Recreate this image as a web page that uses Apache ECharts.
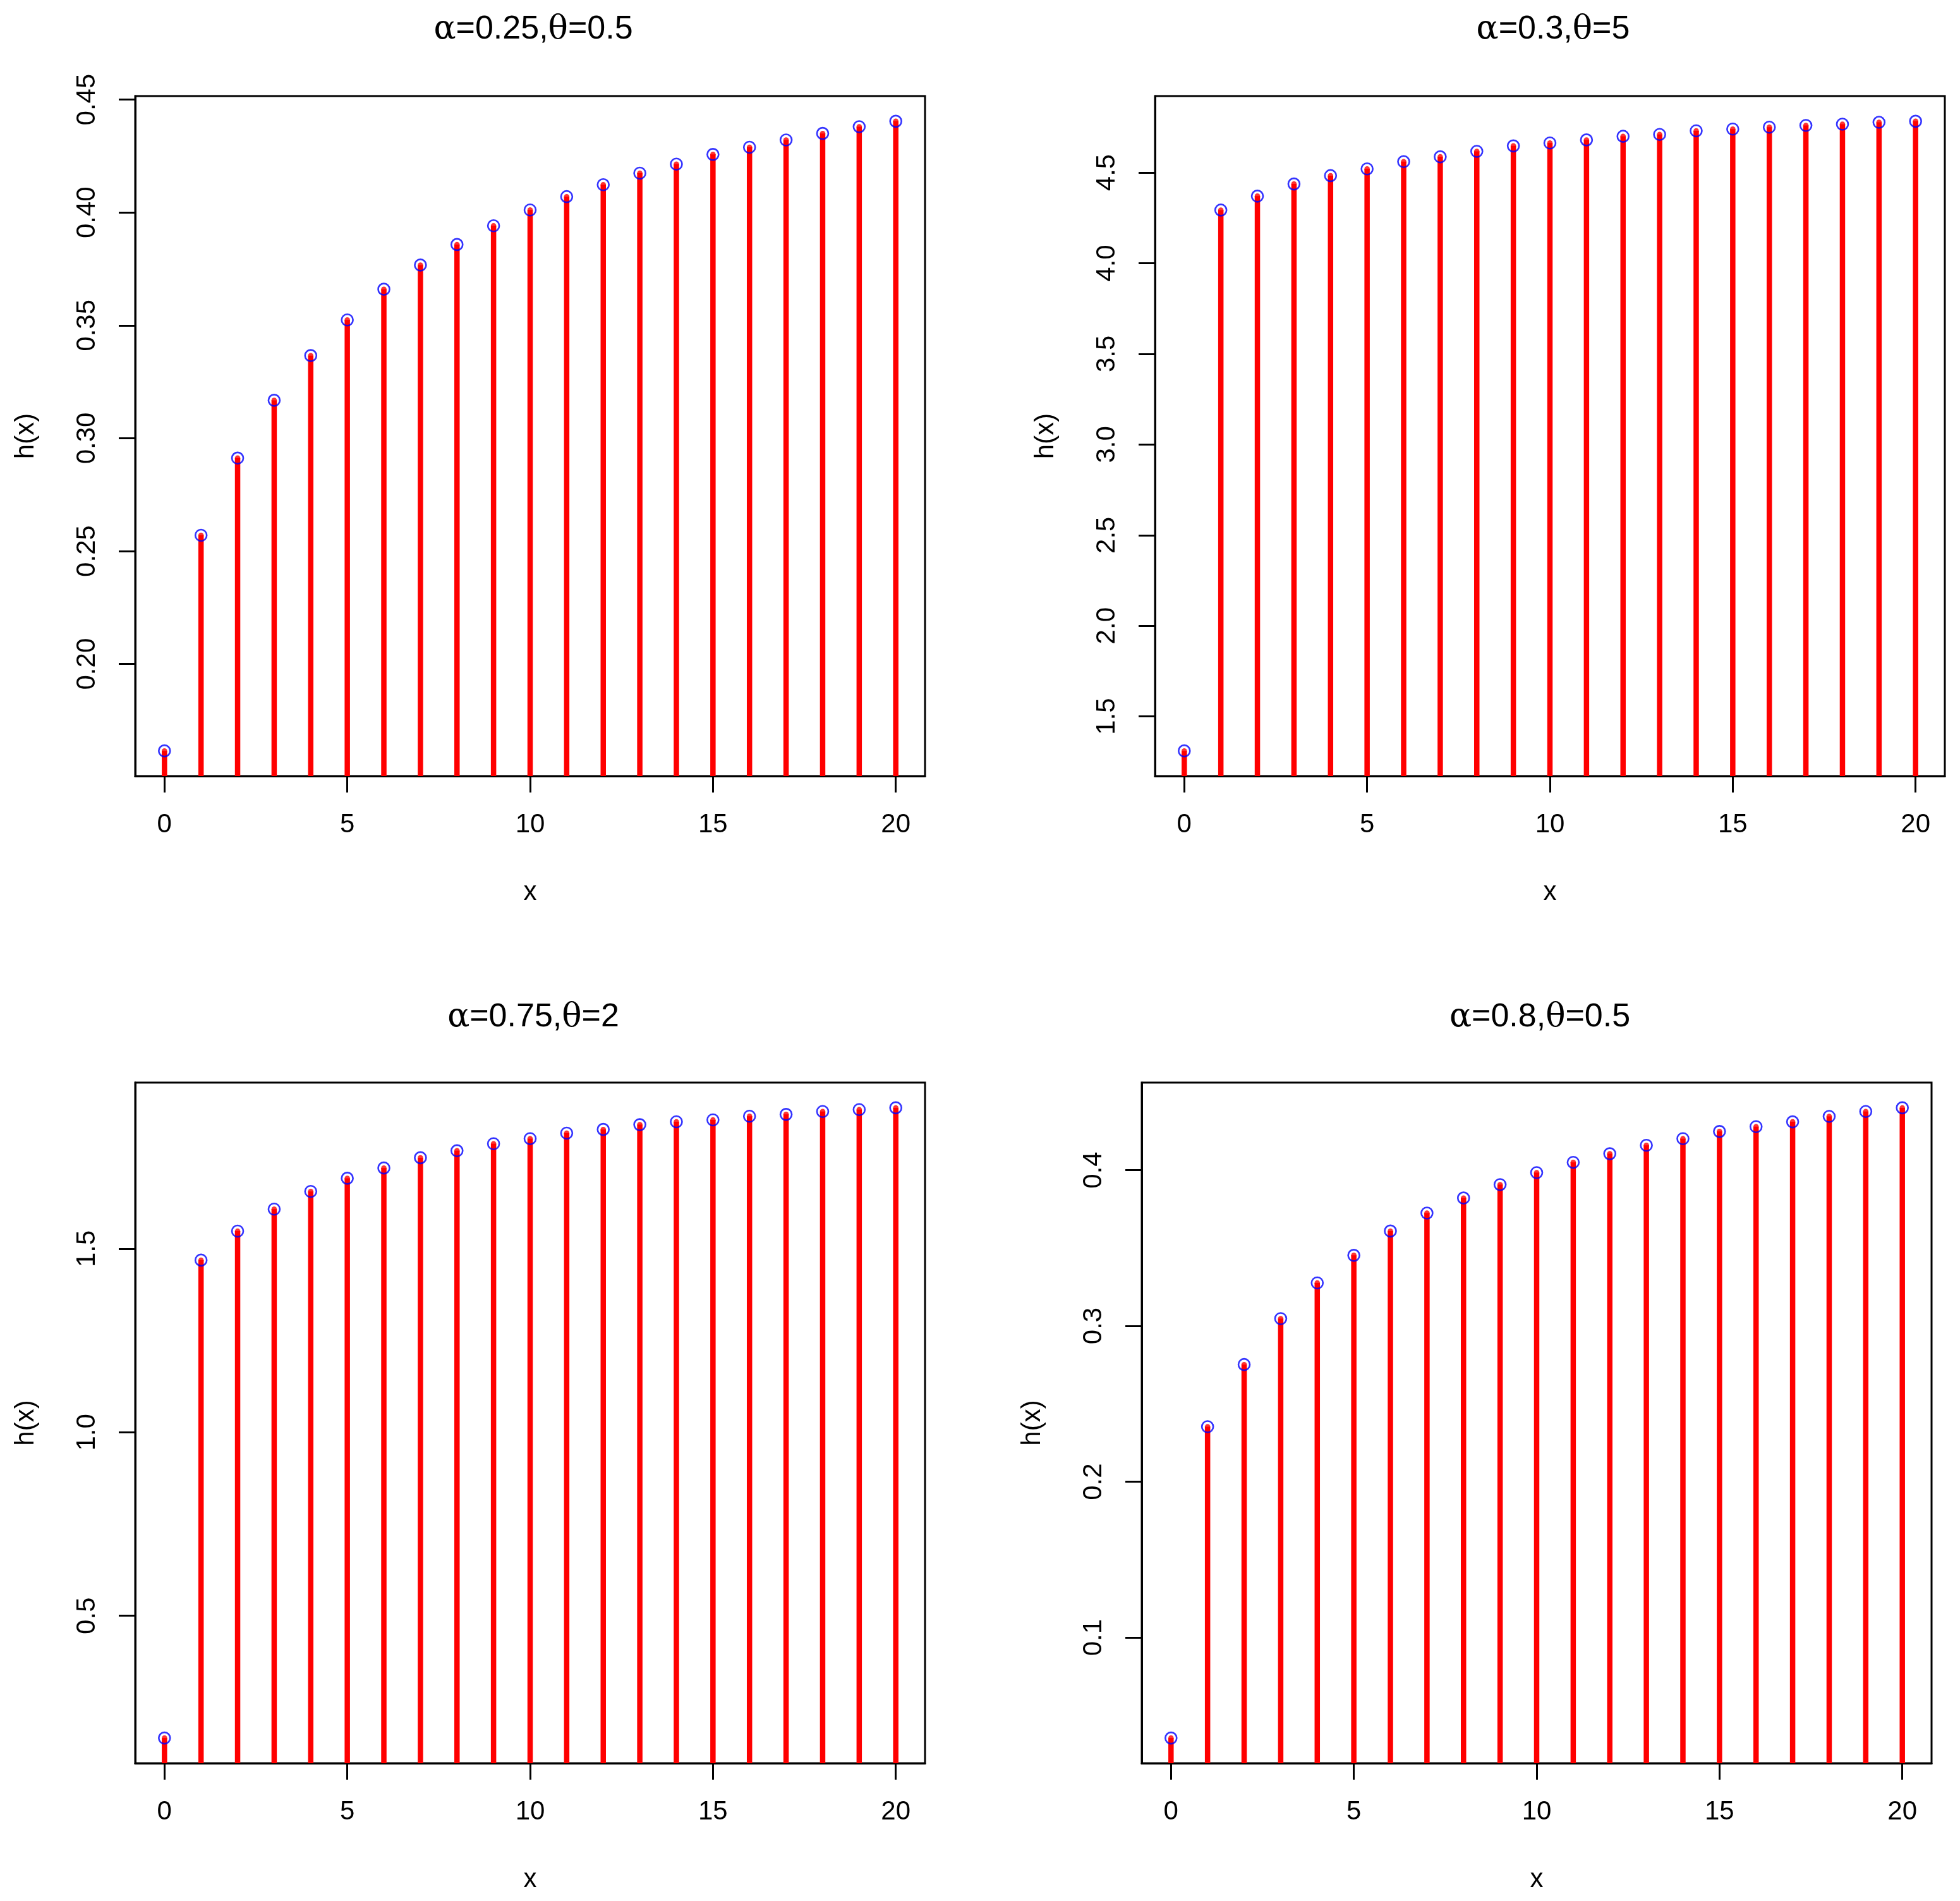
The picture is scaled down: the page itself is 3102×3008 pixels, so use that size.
<!DOCTYPE html>
<html><head><meta charset="utf-8">
<script src="https://cdn.jsdelivr.net/npm/echarts@6/dist/echarts.min.js"></script>
<style>html,body{margin:0;padding:0;background:#fff}#c{width:3102px;height:3008px}</style>
</head><body><div id="c"></div>
<script>
// ---- data ----
const xValues = [0,1,2,3,4,5,6,7,8,9,10,11,12,13,14,15,16,17,18,19,20];
const xTicks = [0,5,10,15,20];

// alpha=0.25, theta=0.5
const hA = [0.1615,0.2570,0.2912,0.3168,0.3366,0.3524,0.3660,0.3767,0.3858,0.3941,0.4011,0.4070,0.4123,0.4174,0.4214,0.4257,0.4289,0.4321,0.4350,0.4380,0.4404];
const ticksA = [0.20,0.25,0.30,0.35,0.40,0.45];
// alpha=0.3, theta=5
const hB = [1.310,4.293,4.370,4.437,4.483,4.520,4.560,4.587,4.617,4.647,4.663,4.680,4.700,4.710,4.730,4.740,4.750,4.760,4.767,4.777,4.783];
const ticksB = [1.5,2.0,2.5,3.0,3.5,4.0,4.5];
// alpha=0.75, theta=2
const hC = [0.167,1.469,1.548,1.608,1.656,1.692,1.720,1.748,1.767,1.786,1.800,1.815,1.825,1.838,1.846,1.851,1.861,1.866,1.874,1.879,1.884];
const ticksC = [0.5,1.0,1.5];
// alpha=0.8, theta=0.5
const hD = [0.0355,0.2353,0.2752,0.3047,0.3276,0.3453,0.3609,0.3724,0.3821,0.3907,0.3984,0.4050,0.4105,0.4159,0.4202,0.4248,0.4279,0.4310,0.4345,0.4376,0.4400];
const ticksD = [0.1,0.2,0.3,0.4];

const titleParts = [['α','0.25','θ','0.5'],['α','0.3','θ','5'],['α','0.75','θ','2'],['α','0.8','θ','0.5']];

// ---- layout ----
const panels = [
  {h:hA, ticks:ticksA, dec:2, left:214, top:152, width:1250, height:1076, titleY:16},
  {h:hB, ticks:ticksB, dec:1, left:1828, top:152, width:1250, height:1076, titleY:16},
  {h:hC, ticks:ticksC, dec:1, left:214, top:1713, width:1250, height:1077, titleY:1579},
  {h:hD, ticks:ticksD, dec:1, left:1807, top:1713, width:1250, height:1077, titleY:1579}
];
const TICK_LEN = 26;

const FONT = "'Liberation Sans', Arial, sans-serif";
const chart = echarts.init(document.getElementById('c'), null, {renderer:'canvas'});

const grid=[], xAxis=[], yAxis=[], series=[], title=[];
panels.forEach((p,i)=>{
  const mn = Math.min(...p.h), mx = Math.max(...p.h), r = mx-mn;
  const lo = mn - 0.04*r, hi = mx + 0.04*r;
  grid.push({left:p.left, top:p.top, width:p.width, height:p.height, show:true,
    borderColor:'#000', borderWidth:3, backgroundColor:'transparent', containLabel:false});
  xAxis.push({type:'value', gridIndex:i, min:-0.8, max:20.8, position:'bottom',
    axisLine:{show:true, onZero:false, lineStyle:{color:'#000', width:3}}, splitLine:{show:false},
    axisTick:{show:true, inside:false, length:TICK_LEN, lineStyle:{color:'#000', width:3}, customValues:xTicks},
    axisLabel:{show:true, margin:56, fontSize:42, color:'#000', fontFamily:FONT, customValues:xTicks,
      formatter:v=>String(v)},
    name:'x', nameLocation:'middle', nameGap:163,
    nameTextStyle:{fontSize:42, color:'#000', fontFamily:FONT}});
  yAxis.push({type:'value', gridIndex:i, min:lo, max:hi, position:'left',
    axisLine:{show:true, onZero:false, lineStyle:{color:'#000', width:3}}, splitLine:{show:false},
    axisTick:{show:true, inside:false, length:TICK_LEN, lineStyle:{color:'#000', width:3}, customValues:p.ticks},
    axisLabel:{show:true, rotate:90, margin:55, fontSize:42, color:'#000', fontFamily:FONT, customValues:p.ticks,
      formatter:v=>Number(v).toFixed(p.dec)},
    name:'h(x)', nameLocation:'middle', nameGap:152,
    nameTextStyle:{fontSize:42, color:'#000', fontFamily:FONT}});
  const pts = xValues.map((x,k)=>[x, p.h[k]]);
  // stems (type = "h")
  series.push({type:'custom', xAxisIndex:i, yAxisIndex:i, data:pts, clip:true, silent:true, animation:false, z:2,
    renderItem:(params, api)=>{
      const topPt = api.coord([api.value(0), api.value(1)]);
      const basePt = api.coord([api.value(0), lo]);
      return {type:'line', shape:{x1:topPt[0], y1:basePt[1], x2:topPt[0], y2:topPt[1]},
        style:{stroke:'#FF0000', lineWidth:8.5, lineCap:'butt'}};
    }});
  series.push({type:'scatter', xAxisIndex:i, yAxisIndex:i, data:pts, symbol:'circle', symbolSize:8.5,
    itemStyle:{color:'#FF0000'}, silent:true, animation:false, z:3});
  series.push({type:'scatter', xAxisIndex:i, yAxisIndex:i, data:pts, symbol:'circle', symbolSize:18,
    itemStyle:{color:'rgba(0,0,0,0)', borderColor:'#0000FF', borderWidth:2.6}, silent:true, animation:false, z:4});
  const t = titleParts[i];
  title.push({text:'{g|'+t[0]+'}='+t[1]+',{g|'+t[2]+'}='+t[3],
    left:p.left + p.width/2, top:p.titleY, textAlign:'center',
    textStyle:{fontSize:52, fontWeight:'normal', color:'#000', fontFamily:FONT,
      rich:{g:{fontSize:52, fontFamily:"'DejaVu Serif', 'Liberation Serif', serif", color:'#000'}}}});
});

chart.setOption({animation:false, backgroundColor:'#fff', title, grid, xAxis, yAxis, series});
</script>
</body></html>
